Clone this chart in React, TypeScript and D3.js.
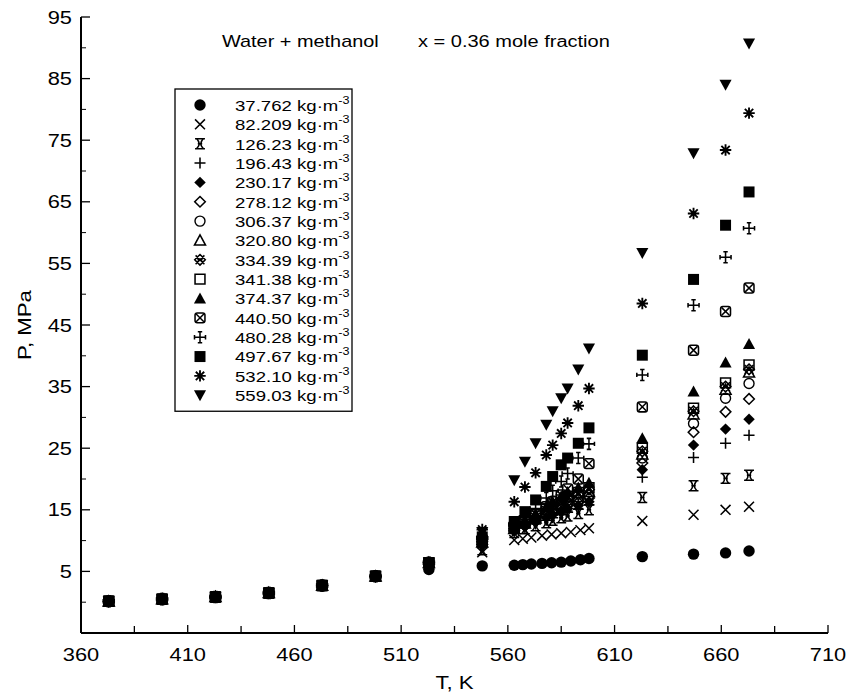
import React from 'react';
import * as d3 from 'd3';

// ---------- data ----------
const densityLabels = [
  '37.762', '82.209', '126.23', '196.43', '230.17', '278.12', '306.37', '320.80',
  '334.39', '341.38', '374.37', '440.50', '480.28', '497.67', '532.10', '559.03',
];
const markerTypes = [
  'filledCircle', 'times', 'ibeam', 'plus', 'filledDiamond', 'openDiamond', 'openCircle', 'openTriangle',
  'hatched', 'openSquare', 'filledTriangle', 'boxX', 'crossBars', 'filledSquare', 'asterisk', 'filledTriangleDown',
];

// two-phase points shared by every isochore
const lowTemps = [373, 398, 423, 448, 473, 498];
const lowPressures = [0.15, 0.5, 0.85, 1.5, 2.7, 4.2];

// temperatures of the remaining points
const tempsVapor = [523, 548, 563, 567, 571, 576, 580.5, 585, 589.5, 594, 598, 623, 647, 662, 673];
const tempsLiquid = [523, 548, 563, 568, 573, 578, 581, 585, 588, 593, 598, 623, 647, 662, 673];

const p37762 = [5.3, 5.9, 6.0, 6.1, 6.2, 6.3, 6.4, 6.5, 6.7, 6.9, 7.1, 7.4, 7.8, 8.0, 8.3];
const p82209 = [6.0, 8.1, 10.1, 10.3, 10.5, 10.8, 11.0, 11.2, 11.4, 11.7, 12.0, 13.2, 14.2, 15.0, 15.5];
const p12623 = [6.4, 8.5, 11.3, 11.9, 12.4, 12.9, 13.3, 13.7, 14.0, 14.4, 15.0, 17.0, 18.9, 20.1, 20.6];
const p19643 = [6.4, 8.9, 11.5, 12.1, 12.7, 13.3, 13.7, 14.2, 14.6, 15.1, 15.8, 20.3, 23.5, 25.8, 27.1];
const p23017 = [6.4, 9.2, 11.6, 12.3, 13.0, 13.7, 14.2, 14.8, 15.2, 15.7, 16.3, 21.5, 25.5, 28.1, 29.7];
const p27812 = [6.4, 9.4, 11.7, 12.5, 13.2, 14.0, 14.6, 15.2, 15.7, 16.2, 16.9, 22.6, 27.6, 30.9, 33.0];
const p30637 = [6.4, 9.6, 11.8, 12.6, 13.4, 14.3, 14.9, 15.6, 16.1, 16.6, 17.4, 23.4, 29.0, 33.1, 35.5];
const p32080 = [6.4, 9.7, 11.9, 12.8, 13.6, 14.6, 15.3, 16.0, 16.6, 17.1, 17.9, 24.0, 30.5, 34.5, 37.3];
const p33439 = [6.4, 9.8, 12.0, 12.9, 13.8, 14.9, 15.6, 16.3, 16.9, 17.5, 18.3, 24.5, 31.0, 35.0, 37.8];
const p34138 = [6.4, 9.9, 12.1, 13.0, 14.0, 15.1, 15.8, 16.6, 17.2, 17.8, 18.6, 25.0, 31.5, 35.6, 38.5];
const p37437 = [6.4, 10.1, 12.2, 13.2, 14.3, 15.5, 16.3, 17.2, 17.9, 18.6, 19.4, 26.6, 34.2, 38.9, 41.9];
const p44050 = [6.4, 10.2, 12.4, 13.3, 14.3, 15.5, 16.3, 17.4, 18.4, 20.0, 22.5, 31.7, 40.9, 47.2, 51.0];
const p48028 = [6.4, 10.4, 12.6, 13.8, 15.2, 16.9, 18.1, 19.6, 20.9, 23.4, 25.7, 36.9, 48.2, 56.0, 60.7];
const p49767 = [6.4, 10.6, 13.1, 14.7, 16.6, 18.8, 20.4, 22.3, 23.4, 25.8, 28.3, 40.1, 52.4, 61.2, 66.6];
const p53210 = [6.4, 11.8, 16.3, 18.7, 21.0, 23.9, 25.5, 27.4, 29.1, 31.9, 34.7, 48.5, 63.1, 73.4, 79.4];
const p55903 = [6.4, 11.4, 19.8, 22.8, 25.8, 28.8, 31.0, 33.1, 34.7, 37.8, 41.2, 56.7, 72.9, 84.0, 90.7];

const seriesPressures = [
  p37762, p82209, p12623, p19643, p23017, p27812, p30637, p32080,
  p33439, p34138, p37437, p44050, p48028, p49767, p53210, p55903,
];

const xTicks = [360, 410, 460, 510, 560, 610, 660, 710];
const yTicks = [5, 15, 25, 35, 45, 55, 65, 75, 85, 95];

// ---------- layout ----------
const W = 851;
const H = 694;
const FONT = 'Arial, "Liberation Sans", Helvetica, sans-serif';

const x = d3.scaleLinear().domain([360, 710]).range([81, 828]);
const y = d3.scaleLinear().domain([-5, 95]).range([633, 17]);

function Marker({ type, cx, cy }: { type: string; cx: number; cy: number }) {
  const t = `translate(${cx},${cy}) scale(1.1)`;
  const sw = 1.4;
  const stroke = { stroke: '#000', strokeWidth: sw, fill: 'none' } as const;
  switch (type) {
    case 'filledCircle':
      return <circle cx={cx} cy={cy} r={5.7} fill="#000" />;
    case 'times':
      return <path transform={t} d="M-4.5,-4.5L4.5,4.5M-4.5,4.5L4.5,-4.5" {...stroke} />;
    case 'ibeam':
      return (
        <path
          transform={t}
          d="M-4.5,-4.5H4.5M-4.5,4.5H4.5M-3,-4.5Q1.5,0 -3,4.5M3,-4.5Q-1.5,0 3,4.5M-2,0H2"
          {...stroke}
        />
      );
    case 'plus':
      return <path transform={t} d="M-5,0H5M0,-5V5" {...stroke} />;
    case 'filledDiamond':
      return <path transform={t} d="M0,-5.2L5.2,0L0,5.2L-5.2,0Z" fill="#000" />;
    case 'openDiamond':
      return <path transform={t} d="M0,-4.8L4.8,0L0,4.8L-4.8,0Z" {...stroke} />;
    case 'openCircle':
      return <circle cx={cx} cy={cy} r={5} {...stroke} />;
    case 'openTriangle':
      return <path transform={t} d="M0,-5L5,4.2L-5,4.2Z" {...stroke} />;
    case 'hatched':
      return (
        <path
          transform={t}
          d="M-4,-4L4,4M-4,4L4,-4M0,-4.8L4.8,0L0,4.8L-4.8,0ZM-2.4,0H2.4"
          {...stroke}
        />
      );
    case 'openSquare':
      return <path transform={t} d="M-4.5,-4.5H4.5V4.5H-4.5Z" {...stroke} />;
    case 'filledTriangle':
      return <path transform={t} d="M0,-5.5L5.5,4.5L-5.5,4.5Z" fill="#000" />;
    case 'boxX':
      return (
        <g transform={t}>
          <rect x={-4.5} y={-4.5} width={9} height={9} rx={2} {...stroke} />
          <path d="M-3.5,-3.5L3.5,3.5M-3.5,3.5L3.5,-3.5" {...stroke} />
        </g>
      );
    case 'crossBars':
      return (
        <path
          transform={t}
          d="M-5,0H5M0,-5V5M-5,-2V2M5,-2V2M-2,-5H2M-2,5H2"
          {...stroke}
        />
      );
    case 'filledSquare':
      return <path transform={t} d="M-5,-5H5V5H-5Z" fill="#000" />;
    case 'asterisk':
      return (
        <path
          transform={t}
          d="M-5.2,0H5.2M0,-5.2V5.2M-3.8,-3.8L3.8,3.8M-3.8,3.8L3.8,-3.8"
          stroke="#000"
          strokeWidth={1.7}
          fill="none"
        />
      );
    case 'filledTriangleDown':
      return <path transform={t} d="M0,5.5L5.5,-4.5L-5.5,-4.5Z" fill="#000" />;
    default:
      return null;
  }
}

function SText({
  x0, y0, size, sx = 1, anchor = 'start', children,
}: { x0: number; y0: number; size: number; sx?: number; anchor?: string; children: React.ReactNode }) {
  return (
    <text
      transform={`translate(${x0},${y0}) scale(${sx},1)`}
      fontSize={size}
      fontFamily={FONT}
      textAnchor={anchor as any}
      fill="#000"
    >
      {children}
    </text>
  );
}

export default function App() {
  const xMinor = d3.range(360, 711, 25).filter((v) => !xTicks.includes(v));
  const yMinor = d3.range(0, 95, 5).filter((v) => !yTicks.includes(v));

  const series = seriesPressures.map((ps, s) => {
    const temps = s < 2 ? tempsVapor : tempsLiquid;
    const pts = lowTemps.map((t, i) => [t, lowPressures[i]]).concat(temps.map((t, i) => [t, ps[i]]));
    return { type: markerTypes[s], label: densityLabels[s], pts };
  });

  const legendX = 175;
  const legendY = 89;
  const rowH = 19.35;
  const legendW = 177;
  const legendH = 16 + 15 * rowH + 16;

  return (
    <svg
      width={W}
      height={H}
      style={{ position: 'absolute', left: 0, top: 0, background: '#fff' }}
      xmlns="http://www.w3.org/2000/svg"
    >
      <rect x={0} y={0} width={W} height={H} fill="#fff" />

      {/* axes */}
      <line x1={x(360)} x2={x(360)} y1={y(95)} y2={y(-5)} stroke="#000" strokeWidth={2} />
      <line x1={x(360)} x2={x(710)} y1={y(-5)} y2={y(-5)} stroke="#000" strokeWidth={2} />

      {xTicks.map((v) => (
        <g key={'xt' + v}>
          <line x1={x(v)} x2={x(v)} y1={y(-5)} y2={y(-5) - 8} stroke="#000" strokeWidth={1.3} />
          <SText x0={x(v)} y0={661} size={18.5} sx={1.18} anchor="middle">{v}</SText>
        </g>
      ))}
      {xMinor.map((v) => (
        <line key={'xm' + v} x1={x(v)} x2={x(v)} y1={y(-5)} y2={y(-5) - 7} stroke="#000" strokeWidth={1.3} />
      ))}
      {yTicks.map((v) => (
        <g key={'yt' + v}>
          <line x1={x(360)} x2={x(360) + 9} y1={y(v)} y2={y(v)} stroke="#000" strokeWidth={1.3} />
          <SText x0={72} y0={y(v) + 6.6} size={18.5} sx={1.18} anchor="end">{v}</SText>
        </g>
      ))}
      {yMinor.map((v) => (
        <line key={'ym' + v} x1={x(360)} x2={x(360) + 5} y1={y(v)} y2={y(v)} stroke="#000" strokeWidth={1} />
      ))}

      {/* axis titles */}
      <text
        transform={`translate(31,${(y(95) + y(-5)) / 2}) rotate(-90) scale(1.2,1)`}
        fontSize={18.5}
        fontFamily={FONT}
        textAnchor="middle"
      >
        P, MPa
      </text>
      <SText x0={(x(360) + x(710)) / 2} y0={689} size={18.5} sx={1.2} anchor="middle">T, K</SText>

      {/* titles */}
      <SText x0={222} y0={47} size={17} sx={1.17}>Water + methanol</SText>
      <SText x0={418} y0={47} size={16} sx={1.25}>x = 0.36 mole fraction</SText>

      {/* data */}
      {series.map((s, si) => (
        <g key={'s' + si}>
          {s.pts.map((p, pi) => (
            <Marker key={pi} type={s.type} cx={x(p[0])} cy={y(p[1])} />
          ))}
        </g>
      ))}

      {/* legend */}
      <rect x={legendX} y={legendY} width={legendW} height={legendH} fill="#fff" stroke="#000" strokeWidth={1.3} />
      {series.map((s, i) => {
        const cy = legendY + 16 + i * rowH;
        return (
          <g key={'lg' + i}>
            <Marker type={s.type} cx={200} cy={cy} />
            <text
              transform={`translate(235,${cy + 5.8}) scale(1.2,1)`}
              fontSize={15.5}
              fontFamily={FONT}
            >
              {s.label} kg·m
              <tspan fontSize={10.5} dy={-7}>-3</tspan>
            </text>
          </g>
        );
      })}
    </svg>
  );
}
